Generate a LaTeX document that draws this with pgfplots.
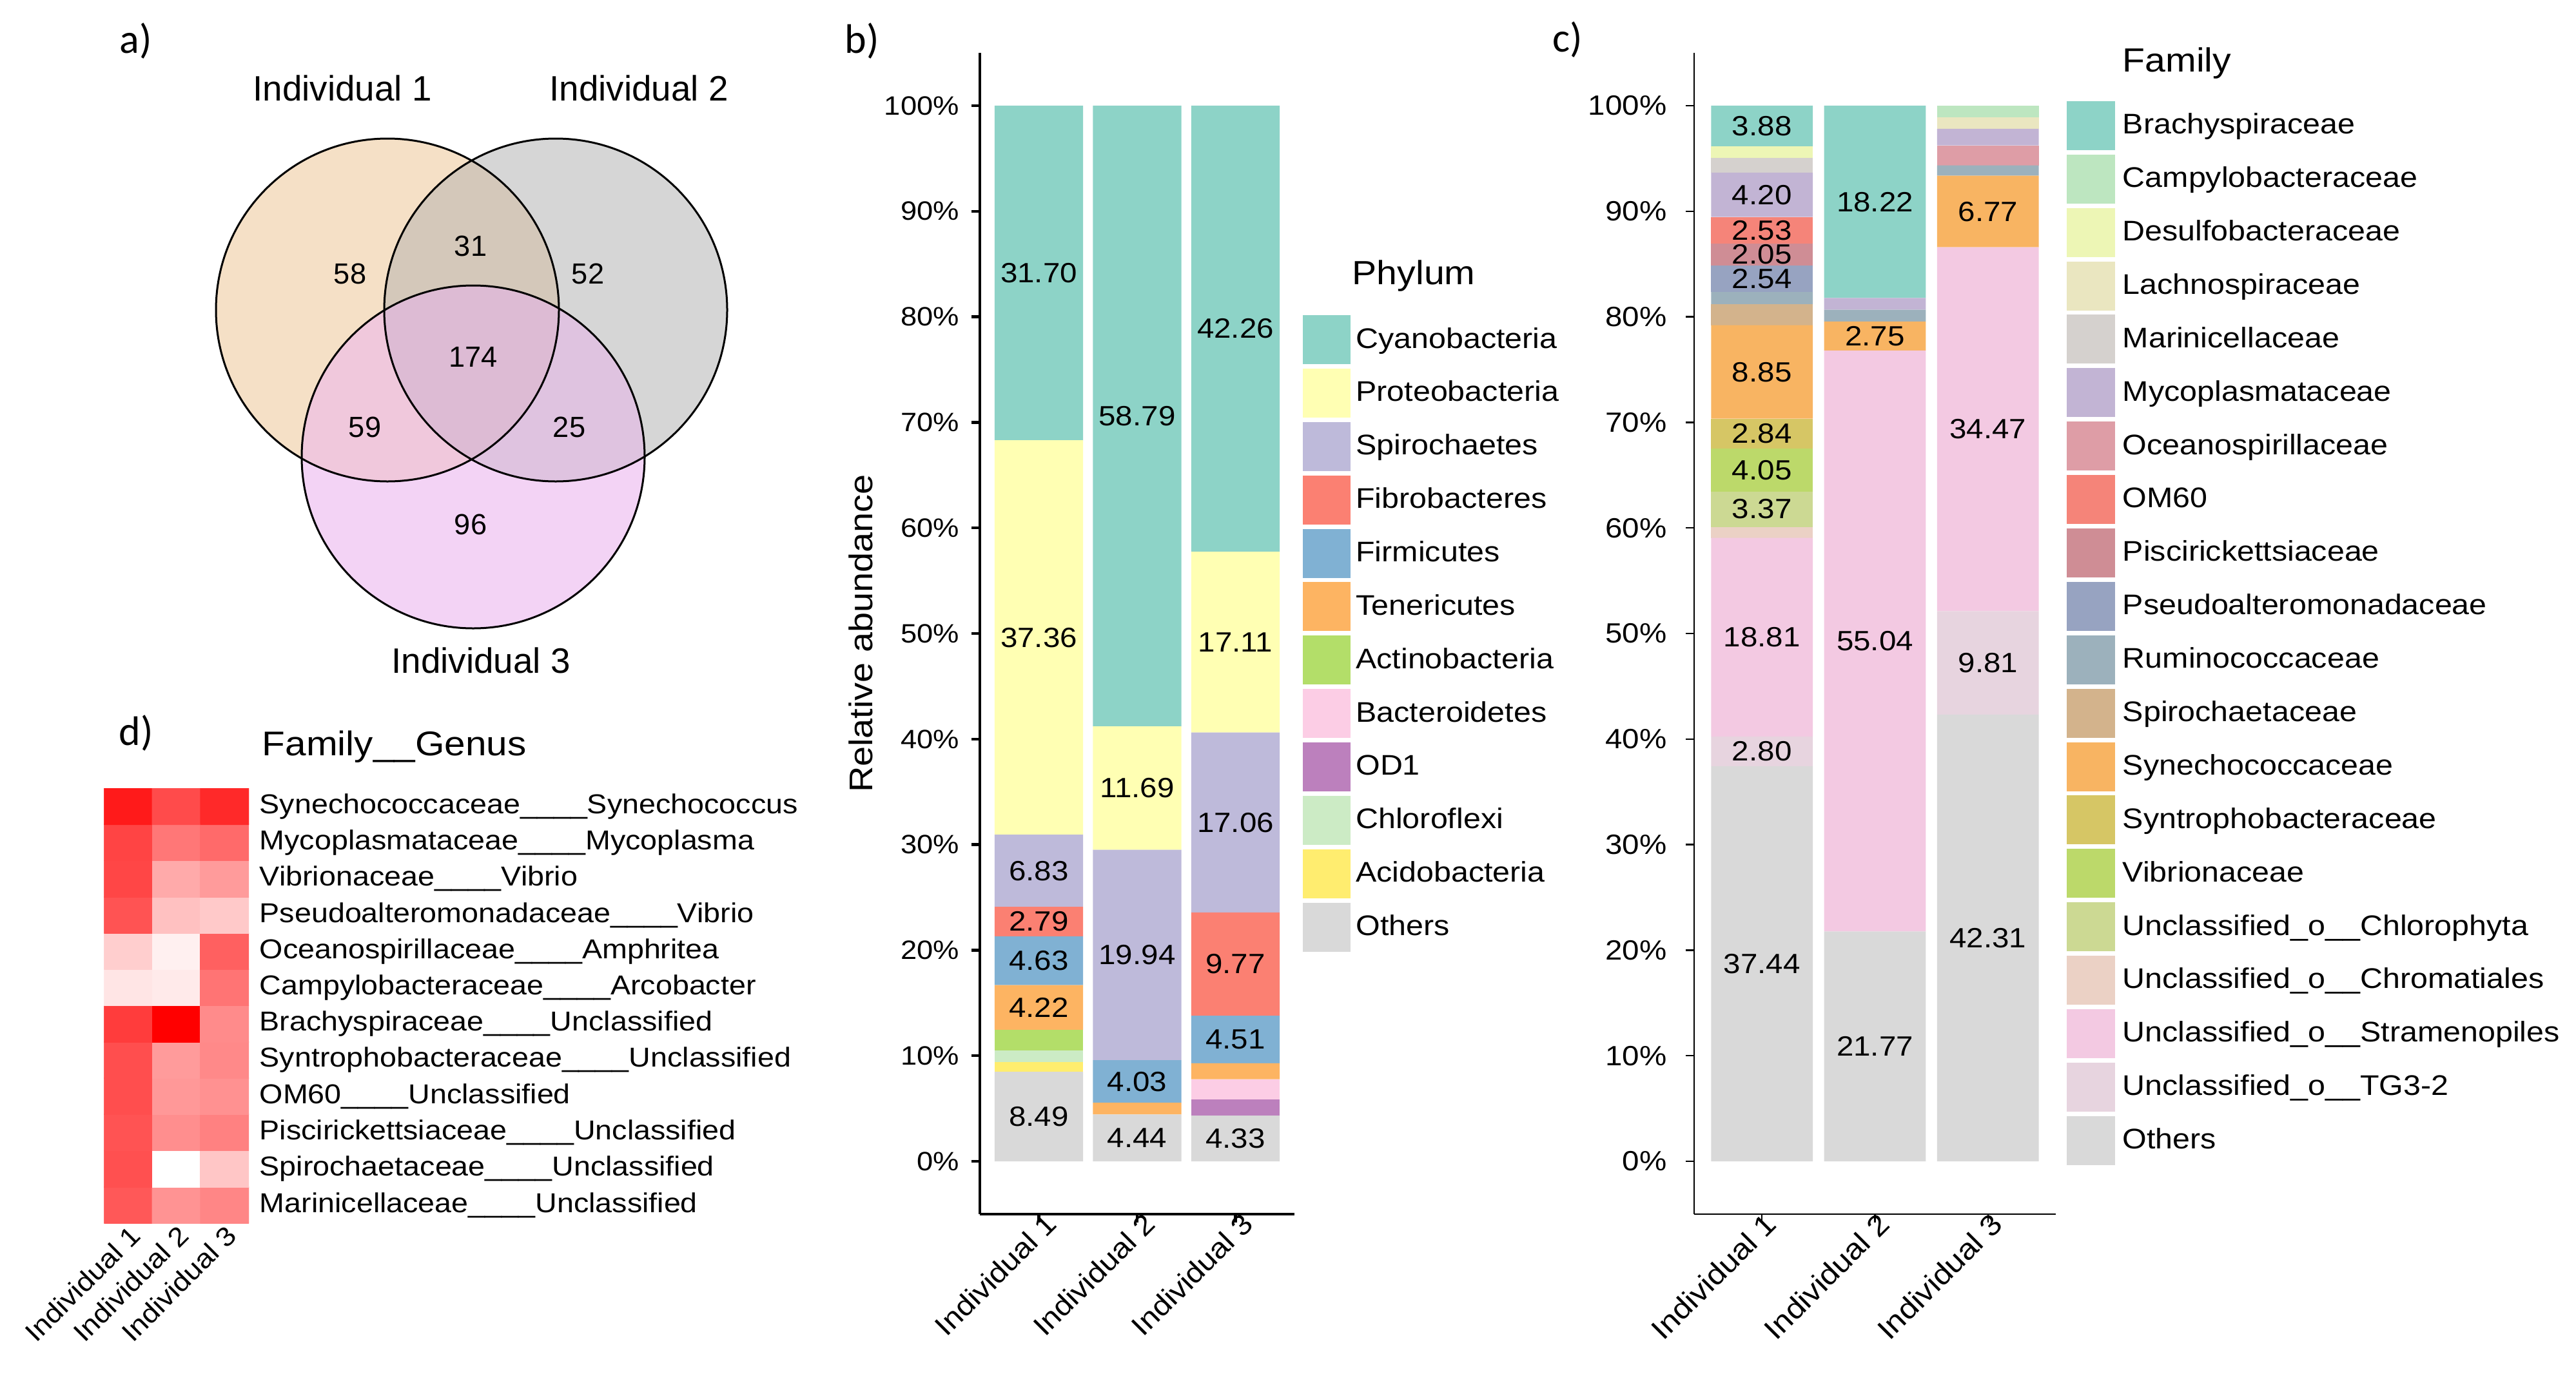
\documentclass[border=0pt]{standalone}
\usepackage{pgfplots}
\pgfplotsset{compat=1.18}
\usepackage{pgfplotstable}
\usepackage{fontspec}
\setmainfont{Liberation Sans}[FakeStretch=1.1]
\newfontfamily\vennfont{Liberation Sans}
\newfontfamily\panelfont{Carlito}
\newcommand{\fsz}[1]{\fontsize{#1}{#1}\selectfont}

% venn fills
\definecolor{vA}{HTML}{F5E0C6}
\definecolor{vB}{HTML}{D6D6D6}
\definecolor{vC}{HTML}{F3D3F5}
\definecolor{vAB}{HTML}{D4C8BA}
\definecolor{vAC}{HTML}{F0C8DC}
\definecolor{vBC}{HTML}{DFC3E0}
\definecolor{vABC}{HTML}{DDBBD4}
% phylum (panel b)
\definecolor{pCya}{HTML}{8DD3C7}
\definecolor{pPro}{HTML}{FFFFB3}
\definecolor{pSpi}{HTML}{BEBADA}
\definecolor{pFib}{HTML}{FB8072}
\definecolor{pFir}{HTML}{80B1D3}
\definecolor{pTen}{HTML}{FDB462}
\definecolor{pAct}{HTML}{B3DE69}
\definecolor{pBac}{HTML}{FCCDE5}
\definecolor{pOD}{HTML}{BC80BD}
\definecolor{pChl}{HTML}{CCEBC5}
\definecolor{pAci}{HTML}{FFED6F}
\definecolor{pOth}{HTML}{D9D9D9}
% family (panel c)
\definecolor{fBra}{HTML}{8DD3C7}
\definecolor{fCam}{HTML}{BDE6C0}
\definecolor{fDes}{HTML}{EDF6B5}
\definecolor{fLac}{HTML}{EAE6C0}
\definecolor{fMar}{HTML}{D5D1CE}
\definecolor{fMyc}{HTML}{C2B4D4}
\definecolor{fOce}{HTML}{DE9DA6}
\definecolor{fOM}{HTML}{F58479}
\definecolor{fPis}{HTML}{CF8D95}
\definecolor{fPse}{HTML}{97A3C1}
\definecolor{fRum}{HTML}{9CB1BC}
\definecolor{fSpi}{HTML}{D3B38C}
\definecolor{fSyn}{HTML}{F8B462}
\definecolor{fSyt}{HTML}{D6C665}
\definecolor{fVib}{HTML}{BCD96A}
\definecolor{fChl}{HTML}{CCD993}
\definecolor{fChr}{HTML}{EBD1C5}
\definecolor{fStr}{HTML}{F3C9E2}
\definecolor{fTG}{HTML}{E7D4DF}
\definecolor{fOth}{HTML}{D9D9D9}

% relative abundance (%), phylum level
\pgfplotstableread{
ind oth aci chl od bac act ten fir fib spi pro cya
1 8.49 0.90 1.10 0.00 0.00 1.98 4.22 4.63 2.79 6.83 37.36 31.70
2 4.44 0.00 0.00 0.00 0.00 0.00 1.11 4.03 0.00 19.94 11.69 58.79
3 4.33 0.00 0.00 1.55 1.90 0.00 1.51 4.51 9.77 17.06 17.11 42.26
}\phylum

% relative abundance (%), family level
\pgfplotstableread{
ind oth tg str chr chl vib syt syn spi rum pse pis om oce myc mar lac des cam bra
1 37.44 2.80 18.81 1.04 3.37 4.05 2.84 8.85 1.97 1.17 2.54 2.05 2.53 0.00 4.20 1.39 0.00 1.07 0.00 3.88
2 21.77 0.00 55.04 0.00 0.00 0.00 0.00 2.75 0.00 1.10 0.00 0.00 0.00 0.00 1.12 0.00 0.00 0.00 0.00 18.22
3 42.31 9.81 34.47 0.00 0.00 0.00 0.00 6.77 0.00 0.98 0.00 0.00 0.00 1.90 1.56 0.00 1.10 0.00 1.10 0.00
}\family

\pgfplotsset{
  barpanel/.style={
    scale only axis, anchor=south west,
    xmin=0.4, xmax=3.6, ymin=-5, ymax=105,
  },
  labpanel/.style={
    barpanel, hide axis,
  },
  seglabels/.style={
    only marks, mark=none, nodes near coords, point meta=explicit symbolic,
    nodes near coords align={center},
    every node near coord/.append style={font=\fsz{10.8}, text=black, inner sep=0pt},
  },
}

\begin{document}
\begin{tikzpicture}
\path[use as bounding box] (0pt,0pt) rectangle (999pt,-540pt);

% ---------- canvas: venn, panel letters, legend titles ----------
\begin{axis}[at={(0pt,0pt)}, anchor=north west, scale only axis,
  width=999pt, height=540pt, xmin=0, xmax=3996, ymin=0, ymax=2160,
  y dir=reverse, hide axis, clip=false]
\fill[vA] (axis cs:601,481) circle[radius=66.5pt];
\fill[vB] (axis cs:862,481) circle[radius=66.5pt];
\fill[vC] (axis cs:734,709) circle[radius=66.5pt];
\begin{scope}
  \clip (axis cs:601,481) circle[radius=66.5pt];
  \fill[vAB] (axis cs:862,481) circle[radius=66.5pt];
  \fill[vAC] (axis cs:734,709) circle[radius=66.5pt];
\end{scope}
\begin{scope}
  \clip (axis cs:862,481) circle[radius=66.5pt];
  \fill[vBC] (axis cs:734,709) circle[radius=66.5pt];
\end{scope}
\begin{scope}
  \clip (axis cs:601,481) circle[radius=66.5pt];
  \clip (axis cs:862,481) circle[radius=66.5pt];
  \fill[vABC] (axis cs:734,709) circle[radius=66.5pt];
\end{scope}
\draw[line width=0.75pt] (axis cs:601,481) circle[radius=66.5pt];
\draw[line width=0.75pt] (axis cs:862,481) circle[radius=66.5pt];
\draw[line width=0.75pt] (axis cs:734,709) circle[radius=66.5pt];
\addplot[only marks, mark=none, nodes near coords, point meta=explicit symbolic,
  nodes near coords align={center},
  every node near coord/.append style={font=\vennfont\fsz{11.3}, text=black, inner sep=0pt}]
  table[meta=lab] {
x y lab
543 425 58
730 382 31
912 425 52
734 554 174
566 663 59
883 663 25
730 814 96
};
\node[font=\vennfont\fsz{13.7}] at (axis cs:531,137) {Individual 1};
\node[font=\vennfont\fsz{13.7}] at (axis cs:991,137) {Individual 2};
\node[font=\vennfont\fsz{13.7}] at (axis cs:746,1025) {Individual 3};
\node[font=\panelfont\fsz{16}] at (axis cs:211,64) {a)};
\node[font=\panelfont\fsz{16}] at (axis cs:1337,64) {b)};
\node[font=\panelfont\fsz{16}] at (axis cs:2432,62) {c)};
\node[font=\panelfont\fsz{16}] at (axis cs:211,1138) {d)};
\node[anchor=base west, inner sep=0pt, font=\fsz{13}] at (axis cs:2097,441) {Phylum};
\node[anchor=base west, inner sep=0pt, font=\fsz{13}] at (axis cs:3292,111) {Family};
\node[anchor=base west, inner sep=0pt, font=\fsz{13.3}] at (axis cs:406,1172) {Family\_\_Genus};
\end{axis}

% ---------- b) phylum ----------
\begin{axis}[barpanel, at={(380pt,-471pt)}, width=122pt, height=450.5pt,
  ybar stacked, bar width=0.9,
  every axis plot/.append style={draw=none},
  axis x line*=bottom, axis y line*=left,
  axis line style={-, line width=1.1pt},
  tick align=outside, major tick length=3.2pt,
  tick style={line width=1.1pt, black},
  xtick={1,2,3}, xticklabels={Individual 1,Individual 2,Individual 3},
  ytick={0,10,...,100},
  yticklabels={0\%,10\%,20\%,30\%,40\%,50\%,60\%,70\%,80\%,90\%,100\%},
  tick label style={font=\fsz{10.3}},
  y tick label style={xshift=-1.3pt},
  x tick label style={font=\fsz{11}, xshift=2pt, yshift=6pt, rotate=45, anchor=north east, inner sep=1pt},
  ylabel={Relative abundance},
  ylabel style={font=\fsz{12.7}, at={(axis description cs:-0.379,0.5)}, anchor=center},
  reverse legend, legend cell align=left,
  legend image code/.code={\fill[#1] (0pt,-9.5pt) rectangle (18.7pt,9.5pt);},
  legend style={at={(1.0258,0.7741)}, anchor=north west, draw=none, fill=none,
    inner sep=0pt, outer sep=0pt, row sep=1.72pt, column sep=2pt,
    font=\fsz{11}, nodes={inner sep=0pt}},
]
\addplot[fill=pOth] table[x=ind,y=oth] {\phylum}; \addlegendentry{Others}
\addplot[fill=pAci] table[x=ind,y=aci] {\phylum}; \addlegendentry{Acidobacteria}
\addplot[fill=pChl] table[x=ind,y=chl] {\phylum}; \addlegendentry{Chloroflexi}
\addplot[fill=pOD]  table[x=ind,y=od]  {\phylum}; \addlegendentry{OD1}
\addplot[fill=pBac] table[x=ind,y=bac] {\phylum}; \addlegendentry{Bacteroidetes}
\addplot[fill=pAct] table[x=ind,y=act] {\phylum}; \addlegendentry{Actinobacteria}
\addplot[fill=pTen] table[x=ind,y=ten] {\phylum}; \addlegendentry{Tenericutes}
\addplot[fill=pFir] table[x=ind,y=fir] {\phylum}; \addlegendentry{Firmicutes}
\addplot[fill=pFib] table[x=ind,y=fib] {\phylum}; \addlegendentry{Fibrobacteres}
\addplot[fill=pSpi] table[x=ind,y=spi] {\phylum}; \addlegendentry{Spirochaetes}
\addplot[fill=pPro] table[x=ind,y=pro] {\phylum}; \addlegendentry{Proteobacteria}
\addplot[fill=pCya] table[x=ind,y=cya] {\phylum}; \addlegendentry{Cyanobacteria}
\end{axis}
\begin{axis}[labpanel, at={(380pt,-471pt)}, width=122pt, height=450.5pt]
\addplot[seglabels] table[meta=lab] {
x y lab
1 84.15 31.70
1 49.62 37.36
1 27.525 6.83
1 22.715 2.79
1 19.005 4.63
1 14.58 4.22
1 4.245 8.49
2 70.605 58.79
2 35.365 11.69
2 19.55 19.94
2 7.565 4.03
2 2.22 4.44
3 78.87 42.26
3 49.185 17.11
3 32.10 17.06
3 18.685 9.77
3 11.545 4.51
3 2.165 4.33
};
\end{axis}

% ---------- c) family ----------
\begin{axis}[barpanel, at={(657pt,-471pt)}, width=140.25pt, height=450.5pt,
  ybar stacked, bar width=0.9,
  every axis plot/.append style={draw=none},
  axis x line*=bottom, axis y line*=left,
  axis line style={-, line width=0.6pt},
  tick align=outside, major tick length=3.3pt,
  tick style={line width=0.6pt, black},
  xtick={1,2,3}, xticklabels={Individual 1,Individual 2,Individual 3},
  ytick={0,10,...,100},
  yticklabels={0\%,10\%,20\%,30\%,40\%,50\%,60\%,70\%,80\%,90\%,100\%},
  tick label style={font=\fsz{10.8}},
  y tick label style={xshift=-3.8pt},
  x tick label style={font=\fsz{11.3}, xshift=0.5pt, yshift=6pt, rotate=45, anchor=north east, inner sep=1pt},
  reverse legend, legend cell align=left,
  legend image code/.code={\fill[#1] (0pt,-9.5pt) rectangle (18.7pt,9.5pt);},
  legend style={at={(1.0303,0.9584)}, anchor=north west, draw=none, fill=none,
    inner sep=0pt, outer sep=0pt, row sep=1.72pt, column sep=3pt,
    font=\fsz{11}, nodes={inner sep=0pt}},
]
\addplot[fill=fOth] table[x=ind,y=oth] {\family}; \addlegendentry{Others}
\addplot[fill=fTG]  table[x=ind,y=tg]  {\family}; \addlegendentry{Unclassified\_o\_\_TG3-2}
\addplot[fill=fStr] table[x=ind,y=str] {\family}; \addlegendentry{Unclassified\_o\_\_Stramenopiles}
\addplot[fill=fChr] table[x=ind,y=chr] {\family}; \addlegendentry{Unclassified\_o\_\_Chromatiales}
\addplot[fill=fChl] table[x=ind,y=chl] {\family}; \addlegendentry{Unclassified\_o\_\_Chlorophyta}
\addplot[fill=fVib] table[x=ind,y=vib] {\family}; \addlegendentry{Vibrionaceae}
\addplot[fill=fSyt] table[x=ind,y=syt] {\family}; \addlegendentry{Syntrophobacteraceae}
\addplot[fill=fSyn] table[x=ind,y=syn] {\family}; \addlegendentry{Synechococcaceae}
\addplot[fill=fSpi] table[x=ind,y=spi] {\family}; \addlegendentry{Spirochaetaceae}
\addplot[fill=fRum] table[x=ind,y=rum] {\family}; \addlegendentry{Ruminococcaceae}
\addplot[fill=fPse] table[x=ind,y=pse] {\family}; \addlegendentry{Pseudoalteromonadaceae}
\addplot[fill=fPis] table[x=ind,y=pis] {\family}; \addlegendentry{Piscirickettsiaceae}
\addplot[fill=fOM]  table[x=ind,y=om]  {\family}; \addlegendentry{OM60}
\addplot[fill=fOce] table[x=ind,y=oce] {\family}; \addlegendentry{Oceanospirillaceae}
\addplot[fill=fMyc] table[x=ind,y=myc] {\family}; \addlegendentry{Mycoplasmataceae}
\addplot[fill=fMar] table[x=ind,y=mar] {\family}; \addlegendentry{Marinicellaceae}
\addplot[fill=fLac] table[x=ind,y=lac] {\family}; \addlegendentry{Lachnospiraceae}
\addplot[fill=fDes] table[x=ind,y=des] {\family}; \addlegendentry{Desulfobacteraceae}
\addplot[fill=fCam] table[x=ind,y=cam] {\family}; \addlegendentry{Campylobacteraceae}
\addplot[fill=fBra] table[x=ind,y=bra] {\family}; \addlegendentry{Brachyspiraceae}
\end{axis}
\begin{axis}[labpanel, at={(657pt,-471pt)}, width=140.25pt, height=450.5pt]
\addplot[seglabels] table[meta=lab] {
x y lab
1 98.06 3.88
1 91.56 4.20
1 88.195 2.53
1 85.905 2.05
1 83.61 2.54
1 74.775 8.85
1 68.93 2.84
1 65.485 4.05
1 61.775 3.37
1 49.645 18.81
1 38.84 2.80
1 18.72 37.44
2 90.89 18.22
2 78.185 2.75
2 49.29 55.04
2 10.885 21.77
3 89.975 6.77
3 69.355 34.47
3 47.215 9.81
3 21.155 42.31
};
\end{axis}

% ---------- d) heatmap ----------
\begin{axis}[at={(40.375pt,-474.5pt)}, anchor=south west, scale only axis,
  width=56.125pt, height=168.75pt,
  xmin=0.5, xmax=3.5, ymin=0.5, ymax=12.5, enlargelimits=false,
  axis line style={draw=none}, tick style={draw=none}, major tick length=0pt,
  xtick={1,2,3}, xticklabels={Individual 1,Individual 2,Individual 3},
  x tick label style={rotate=45, anchor=north east, inner sep=0pt, font=\fsz{10.4}},
  ytick={1,...,12}, yticklabel pos=right,
  yticklabels={Marinicellaceae\_\_\_\_Unclassified,
    Spirochaetaceae\_\_\_\_Unclassified,
    Piscirickettsiaceae\_\_\_\_Unclassified,
    OM60\_\_\_\_Unclassified,
    Syntrophobacteraceae\_\_\_\_Unclassified,
    Brachyspiraceae\_\_\_\_Unclassified,
    Campylobacteraceae\_\_\_\_Arcobacter,
    Oceanospirillaceae\_\_\_\_Amphritea,
    Pseudoalteromonadaceae\_\_\_\_Vibrio,
    Vibrionaceae\_\_\_\_Vibrio,
    Mycoplasmataceae\_\_\_\_Mycoplasma,
    Synechococcaceae\_\_\_\_Synechococcus},
  y tick label style={anchor=west, inner sep=0pt, xshift=4pt, font=\fsz{10.6}},
  colormap={wr}{rgb255=(255,255,255) rgb255=(255,0,0)},
  point meta min=0, point meta max=1,
]
\addplot[matrix plot*, mesh/cols=3, point meta=explicit] table[meta=v] {
x y v
1 1 0.65
2 1 0.42
3 1 0.47
1 2 0.68
2 2 0.00
3 2 0.22
1 3 0.67
2 3 0.44
3 3 0.49
1 4 0.69
2 4 0.40
3 4 0.43
1 5 0.69
2 5 0.39
3 5 0.46
1 6 0.76
2 6 1.00
3 6 0.45
1 7 0.10
2 7 0.08
3 7 0.54
1 8 0.19
2 8 0.06
3 8 0.62
1 9 0.67
2 9 0.24
3 9 0.21
1 10 0.72
2 10 0.33
3 10 0.39
1 11 0.73
2 11 0.53
3 11 0.58
1 12 0.89
2 12 0.70
3 12 0.835
};
\end{axis}
\end{tikzpicture}
\end{document}
